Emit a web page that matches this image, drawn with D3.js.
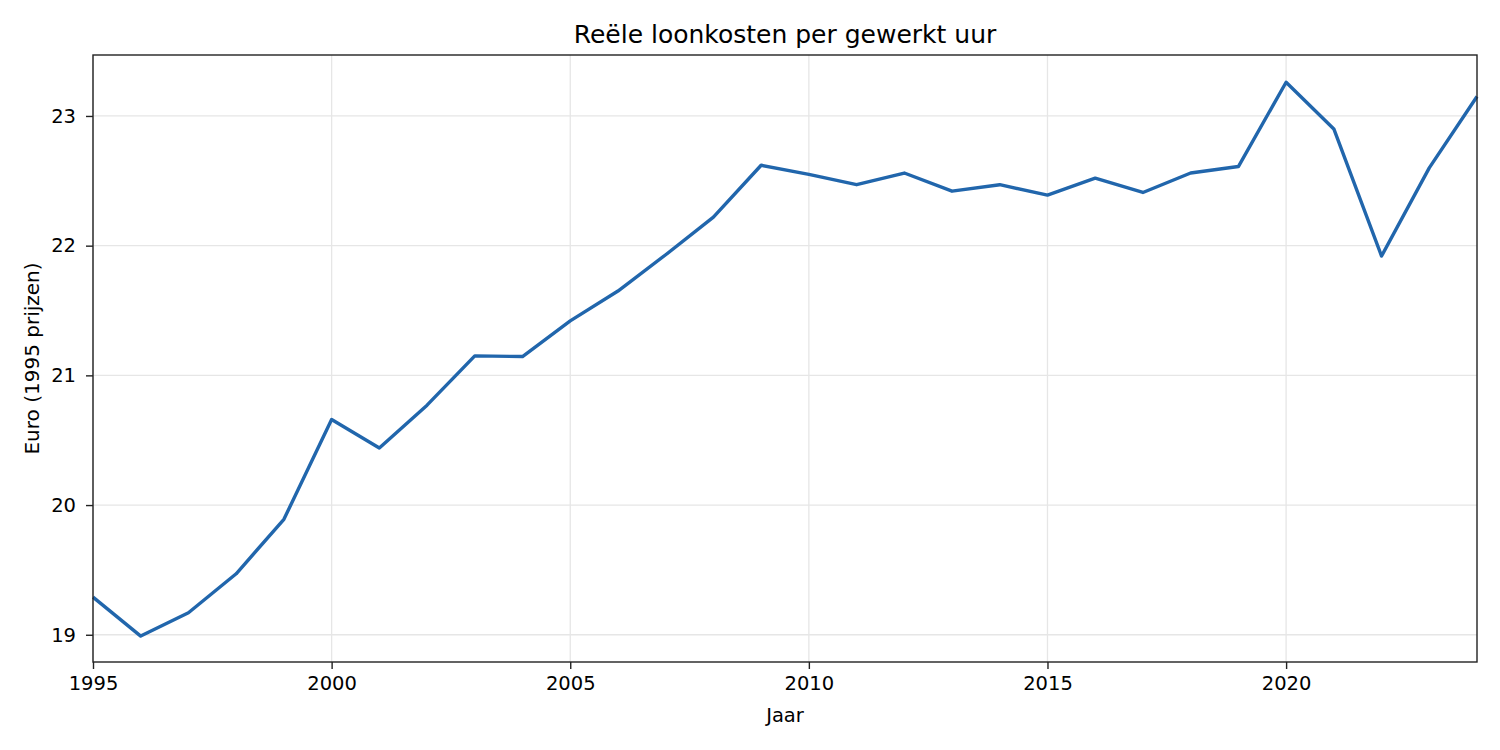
<!DOCTYPE html>
<html>
<head>
<meta charset="utf-8">
<script src="https://cdn.jsdelivr.net/npm/d3@7"></script>
<style>
  body { margin: 0; background: #fff; overflow: hidden; }
  svg { display: block; }
  svg text { font-family: "DejaVu Sans", sans-serif; fill: #000; }
  .tick line { stroke: #222; stroke-width: 1.4; }
  .grid line { stroke: #e6e6e6; stroke-width: 1.3; }
</style>
</head>
<body>
<svg width="1500" height="750"></svg>
<script>
const titleText = 'Reële loonkosten per gewerkt uur';
const xAxisLabelText = 'Jaar';
const yAxisLabelText = 'Euro (1995 prijzen)';

const years = d3.range(1995, 2025);
const values = [
  19.29, 18.99, 19.17, 19.47, 19.89, 20.66, 20.44, 20.77, 21.15, 21.145,
  21.42, 21.65, 21.93, 22.22, 22.62, 22.55, 22.47, 22.56, 22.42, 22.47,
  22.39, 22.52, 22.41, 22.56, 22.61, 23.26, 22.90, 21.92, 22.60, 23.15
];
const xTicks = [1995, 2000, 2005, 2010, 2015, 2020];
const yTicks = [19, 20, 21, 22, 23];

const data = years.map((year, i) => ({ year, value: values[i] }));

const svg = d3.select('svg');
const width = +svg.attr('width');
const height = +svg.attr('height');

const margin = { top: 55, right: 23, bottom: 88, left: 93 };
const innerWidth = width - margin.left - margin.right;
const innerHeight = height - margin.top - margin.bottom;

const xScale = d3.scaleLinear()
  .domain([1995, 2024])
  .range([0, innerWidth]);

const yScale = d3.scaleLinear()
  .domain([18.79, 23.47])
  .range([innerHeight, 0]);

const g = svg.append('g')
  .attr('transform', `translate(${margin.left},${margin.top})`);

// grid
g.append('g').attr('class', 'grid')
  .selectAll('line').data(xTicks).join('line')
    .attr('x1', d => xScale(d)).attr('x2', d => xScale(d))
    .attr('y1', 0).attr('y2', innerHeight);
g.append('g').attr('class', 'grid')
  .selectAll('line').data(yTicks).join('line')
    .attr('x1', 0).attr('x2', innerWidth)
    .attr('y1', d => yScale(d)).attr('y2', d => yScale(d));

const lineGenerator = d3.line()
  .x(d => xScale(d.year))
  .y(d => yScale(d.value));

g.append('path')
  .attr('d', lineGenerator(data))
  .attr('fill', 'none')
  .attr('stroke', '#2166ac')
  .attr('stroke-width', 3.4)
  .attr('stroke-linejoin', 'round');

const xAxis = d3.axisBottom(xScale)
  .tickValues(xTicks)
  .tickFormat(d3.format('d'))
  .tickSize(7)
  .tickPadding(7);

const yAxis = d3.axisLeft(yScale)
  .tickValues(yTicks)
  .tickFormat(d3.format('d'))
  .tickSize(7)
  .tickPadding(10);

const xAxisG = g.append('g').call(xAxis)
  .attr('transform', `translate(0,${innerHeight})`)
  .attr('font-size', null)
  .attr('font-family', null);
xAxisG.select('.domain').remove();
xAxisG.selectAll('text').style('font-size', '19.5px');

const yAxisG = g.append('g').call(yAxis)
  .attr('font-size', null)
  .attr('font-family', null);
yAxisG.select('.domain').remove();
yAxisG.selectAll('text').style('font-size', '19.5px');

// frame
g.append('rect')
  .attr('width', innerWidth)
  .attr('height', innerHeight)
  .attr('fill', 'none')
  .attr('stroke', '#222')
  .attr('stroke-width', 1.4);

g.append('text')
  .attr('x', innerWidth / 2)
  .attr('y', 660)
  .attr('dy', '0.35em')
  .attr('text-anchor', 'middle')
  .style('font-size', '19.5px')
  .text(xAxisLabelText);

g.append('text')
  .attr('transform', `translate(-61,${innerHeight / 2}) rotate(-90)`)
  .attr('dy', '0.35em')
  .attr('text-anchor', 'middle')
  .style('font-size', '20px')
  .text(yAxisLabelText);

g.append('text')
  .attr('x', innerWidth / 2)
  .attr('y', -21)
  .attr('dy', '0.35em')
  .attr('text-anchor', 'middle')
  .style('font-size', '25px')
  .text(titleText);
</script>
</body>
</html>
